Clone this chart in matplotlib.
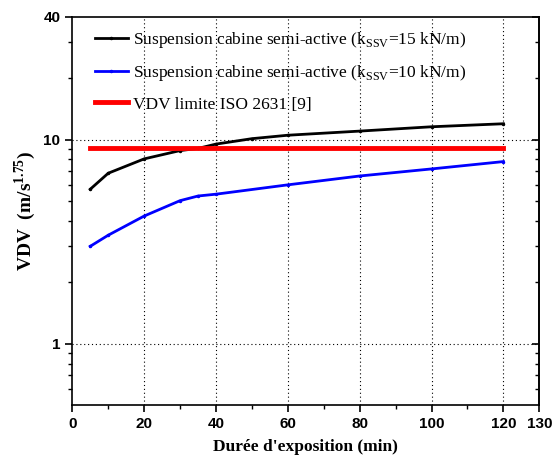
import numpy as np
import matplotlib.pyplot as plt
from matplotlib.ticker import FixedLocator, NullFormatter

# Durée d'exposition (min)
duree_15 = [5, 10, 20, 30, 35, 40, 50, 60, 80, 100, 120]
vdv_15 = [5.71, 6.84, 8.04, 8.83, 9.05, 9.5, 10.1, 10.5, 11.0, 11.55, 11.95]

duree_10 = [5, 10, 20, 30, 35, 40, 60, 80, 100, 120]
vdv_10 = [3.0, 3.4, 4.22, 5.02, 5.29, 5.4, 6.0, 6.63, 7.18, 7.8]

duree_iso = [5, 120]
vdv_iso = [9.1, 9.1]

labels = [
    r"Suspension cabine semi-active (k$_{\mathrm{SSV}}$=15 kN/m)",
    r"Suspension cabine semi-active (k$_{\mathrm{SSV}}$=10 kN/m)",
    "VDV limite ISO 2631 [9]",
]

plt.rcParams['mathtext.fontset'] = 'custom'
plt.rcParams['mathtext.rm'] = 'Liberation Serif'
plt.rcParams['mathtext.bf'] = 'Liberation Serif:bold'

fig = plt.figure(figsize=(5.56, 4.62), dpi=100)
ax = fig.add_axes([0.130, 0.123, 0.840, 0.841])

ax.plot(duree_15, vdv_15, color='black', lw=2, marker='o', ms=1.5, label=labels[0])
ax.plot(duree_10, vdv_10, color='blue', lw=2, marker='o', ms=1.5, label=labels[1])
ax.plot(duree_iso, vdv_iso, color='red', lw=3.5, label=labels[2])

ax.set_yscale('log')
ax.set_xlim(0, 130)
ax.set_ylim(0.5, 40)

ax.set_xticks([0, 20, 40, 60, 80, 100, 120, 130])
ax.xaxis.set_minor_locator(FixedLocator([10, 30, 50, 70, 90, 110]))
ax.yaxis.set_major_locator(FixedLocator([1, 10, 40]))
y_minor = [0.6, 0.7, 0.8, 0.9, 2, 3, 4, 5, 6, 7, 8, 9, 20, 30]
ax.yaxis.set_minor_locator(FixedLocator(y_minor))
ax.yaxis.set_minor_formatter(NullFormatter())
ax.set_yticklabels(['1', '10', '40'])

for lab in ax.get_xticklabels() + ax.get_yticklabels():
    lab.set_fontfamily('Liberation Sans')
    lab.set_fontweight('bold')
    lab.set_fontsize(11)

ax.tick_params(which='major', direction='out', length=5, width=1.2)
ax.tick_params(which='minor', direction='out', length=3, width=1.0)

# ticks à droite vers l'intérieur
ax_r = ax.secondary_yaxis('right')
ax_r.yaxis.set_major_locator(FixedLocator([1, 10, 40]))
ax_r.yaxis.set_minor_locator(FixedLocator(y_minor))
ax_r.tick_params(which='major', direction='in', length=5, width=1.2, labelright=False)
ax_r.tick_params(which='minor', direction='in', length=3, width=1.0)
ax_r.set_yticklabels([])

for s in ax.spines.values():
    s.set_linewidth(1.2)
ax_r.spines['right'].set_linewidth(1.2)

# grille pointillée (x sans 0 et 130)
for gx in [20, 40, 60, 80, 100, 120]:
    ax.axvline(gx, color='black', ls=(0, (1, 2.5)), lw=0.8, zorder=0)
for gy in [1, 10]:
    ax.axhline(gy, color='black', ls=(0, (1, 2.5)), lw=0.8, zorder=0)

ax.set_xlabel("Durée d'exposition (min)", family='Liberation Serif',
              fontweight='bold', fontsize=12.5, labelpad=6)
ax.set_ylabel(r"VDV  (m/s$^{\mathbf{1.75}}$)", family='Liberation Serif',
              fontweight='bold', fontsize=14, labelpad=4)

ax.legend(loc='upper left', frameon=False, prop={'family': 'Liberation Serif', 'size': 12.5},
          handlelength=1.9, handletextpad=0.3, labelspacing=0.75,
          bbox_to_anchor=(0.015, 1.005))

fig.savefig('out.png', dpi=100)
